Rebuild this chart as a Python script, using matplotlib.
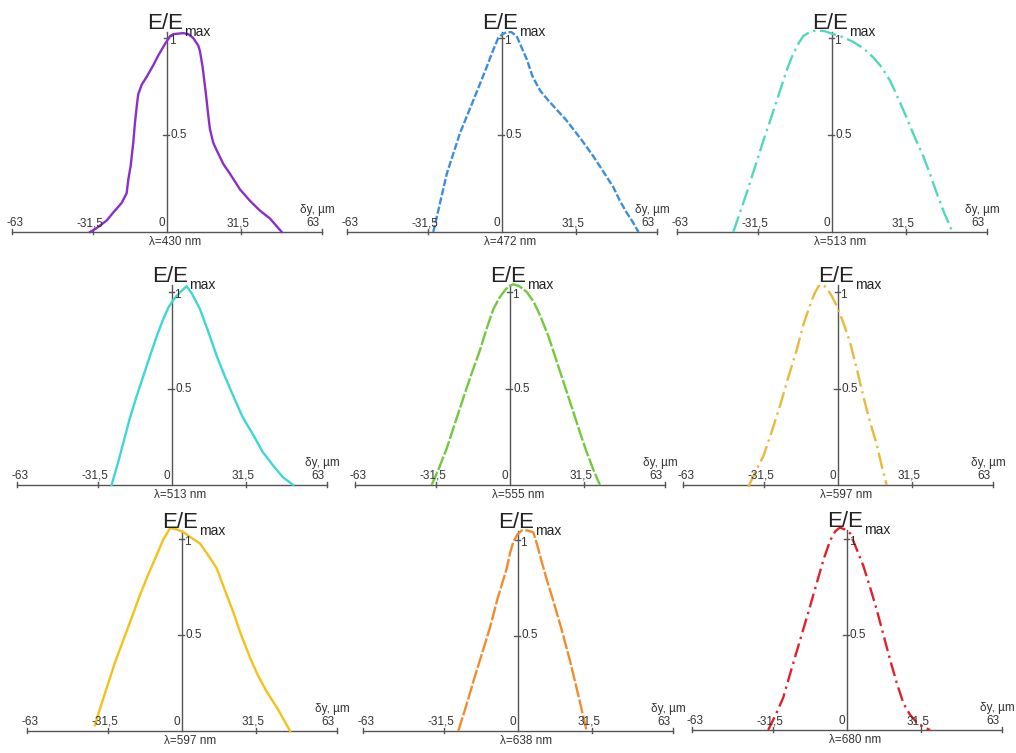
import matplotlib.pyplot as plt

plt.rcParams['font.family'] = ['Liberation Sans', 'DejaVu Sans']

# profiles: dy in um, E/Emax
dy_430 = [-32.6, -29.8, -25.5, -22.8, -19.2, -17.1, -16.4, -15.4, -14.3, -13.6, -12.8, -12.2, -10.7, -8.6, -5.8,
          -3.7, -0.8, 1.3, 2.7, 6.9, 9.0, 11.1, 13.3, 14.0, 15.1, 16.5, 17.5, 18.2, 19.6, 21.1, 23.9, 26.7,
          30.9, 35.2, 39.4, 43.6, 48.6]
e_430 = [0.0, 0.02, 0.06, 0.10, 0.15, 0.20, 0.27, 0.34, 0.46, 0.56, 0.65, 0.71, 0.76, 0.80, 0.86,
         0.91, 0.97, 1.01, 1.02, 1.025, 1.02, 1.0, 0.96, 0.93, 0.85, 0.71, 0.60, 0.53, 0.46, 0.42, 0.35, 0.30,
         0.22, 0.16, 0.11, 0.07, 0.0]

dy_472 = [-29.1, -23.4, -17.8, -12.1, -6.5, -4.0, -1.6, 0.2, 2.0, 4.0, 6.2, 8.0, 10.5, 13.0, 16.1, 19.5,
          23.2, 27.0, 30.2, 34.0, 38.7, 43.0, 47.2, 50.0, 52.8, 55.5, 57.8]
e_472 = [0.0, 0.30, 0.51, 0.68, 0.85, 0.93, 1.0, 1.02, 1.03, 1.03, 1.01, 0.96, 0.89, 0.80, 0.73, 0.68,
         0.63, 0.58, 0.53, 0.47, 0.39, 0.31, 0.23, 0.16, 0.10, 0.05, 0.0]

dy_513a = [-41.8, -39.0, -36.2, -32.5, -29.1, -25.5, -22.0, -19.0, -16.4, -14.0, -12.2, -9.5, -6.5, -3.0,
           0.6, 4.5, 9.0, 13.5, 17.5, 21.0, 24.6, 28.0, 31.6, 35.0, 38.7, 41.5, 44.4, 47.5, 50.7]
e_513a = [0.0, 0.10, 0.20, 0.34, 0.47, 0.60, 0.73, 0.84, 0.92, 0.975, 1.01, 1.03, 1.04, 1.035,
          1.02, 1.005, 0.98, 0.945, 0.90, 0.85, 0.78, 0.69, 0.59, 0.49, 0.39, 0.30, 0.20, 0.10, 0.01]

dy_513b = [-25.6, -23.0, -20.6, -18.0, -15.0, -12.0, -9.3, -6.5, -3.7, -1.5, 0.6, 3.5, 6.2, 8.5, 11.9,
           15.5, 18.9, 22.5, 26.0, 30.0, 34.4, 38.5, 42.9, 47.0, 51.4]
e_513b = [0.0, 0.11, 0.22, 0.34, 0.46, 0.57, 0.67, 0.77, 0.86, 0.92, 0.96, 1.0, 1.03, 0.99, 0.91,
          0.79, 0.67, 0.56, 0.46, 0.35, 0.26, 0.17, 0.10, 0.04, 0.0]

dy_555 = [-33.2, -30.0, -26.8, -23.3, -19.8, -16.2, -12.7, -9.9, -7.1, -4.5, -2.1, -0.5, 1.4, 4.0, 7.1,
          10.0, 12.7, 16.3, 19.8, 23.3, 26.8, 29.7, 32.5, 35.3, 38.1]
e_555 = [0.0, 0.09, 0.19, 0.32, 0.45, 0.58, 0.70, 0.81, 0.91, 0.97, 1.01, 1.03, 1.04, 1.03, 1.0,
         0.95, 0.88, 0.77, 0.64, 0.51, 0.38, 0.27, 0.17, 0.08, 0.0]

dy_597a = [-38.0, -35.0, -31.6, -28.0, -24.6, -21.0, -17.5, -14.7, -11.9, -10.0, -8.3, -6.5, -4.8, -2.7,
           -0.6, 2.3, 5.1, 8.0, 10.7, 13.5, 16.4, 18.5, 20.6]
e_597a = [-0.01, 0.07, 0.15, 0.28, 0.41, 0.56, 0.70, 0.83, 0.93, 0.99, 1.03, 1.04, 1.02, 0.98,
          0.93, 0.84, 0.74, 0.60, 0.46, 0.33, 0.21, 0.10, 0.0]

dy_597b = [-36.9, -34.5, -31.9, -28.5, -24.9, -21.3, -17.8, -14.2, -10.7, -8.0, -5.1, -2.5, 0.6, 4.0, 7.6,
           11.0, 14.7, 18.0, 21.7, 25.0, 28.8, 32.0, 35.9, 40.5, 45.8]
e_597b = [0.03, 0.126, 0.224, 0.353, 0.472, 0.591, 0.709, 0.818, 0.917, 0.996, 1.056, 1.051, 1.036, 1.006, 0.977,
          0.917, 0.848, 0.739, 0.620, 0.502, 0.383, 0.294, 0.205, 0.116, 0.0]

dy_638 = [-25.3, -22.0, -18.9, -15.4, -11.9, -8.5, -4.8, -3.4, -2.0, -0.2, 1.6, 4.0, 6.5, 8.0, 9.3,
          12.0, 15.0, 18.5, 22.0, 25.5, 29.1]
e_638 = [0.0, 0.13, 0.26, 0.40, 0.54, 0.70, 0.85, 0.93, 0.99, 1.03, 1.05, 1.05, 1.04, 0.98, 0.92,
         0.80, 0.68, 0.53, 0.37, 0.19, 0.0]

dy_680 = [-33.4, -30.2, -27.0, -23.5, -19.9, -16.3, -12.8, -10.0, -7.2, -5.0, -3.0, -1.0, 1.3, 4.0, 6.9,
          9.7, 12.6, 15.4, 18.2, 21.0, 23.9, 26.7, 29.5, 32.4, 35.2]
e_680 = [0.0, 0.08, 0.17, 0.32, 0.47, 0.62, 0.77, 0.89, 0.99, 1.04, 1.06, 1.05, 1.03, 0.95, 0.86,
         0.75, 0.63, 0.50, 0.37, 0.25, 0.14, 0.08, 0.04, 0.015, 0.0]

tick_vals = [-63, -31.5, 0, 31.5, 63]
tick_text = ['-63', '-31,5', '0', '31,5', '63']

SX = 2.36  # px per um
W, H = 1016, 753

panels = [
    # origin px (x, y), px per unit E, data, colour, dash, label
    ((167, 232), 194, dy_430, e_430, '#8B2FC9', None, 'λ=430 nm'),
    ((502, 232), 194, dy_472, e_472, '#3C8DDC', (3, 1), 'λ=472 nm'),
    ((832, 232), 194, dy_513a, e_513a, '#4FD8BE', (7, 2, 1, 2), 'λ=513 nm'),
    ((172, 485), 193, dy_513b, e_513b, '#3FD6D6', None, 'λ=513 nm'),
    ((510, 485), 193, dy_555, e_555, '#72C93C', (6, 1), 'λ=555 nm'),
    ((838, 485), 193, dy_597a, e_597a, '#E8B93A', (7, 2, 1, 2), 'λ=597 nm'),
    ((182, 731), 192, dy_597b, e_597b, '#F2C21B', None, 'λ=597 nm'),
    ((518, 731), 191, dy_638, e_638, '#F08C2C', (6, 1), 'λ=638 nm'),
    ((847, 730), 191, dy_680, e_680, '#E0212B', (6, 2, 1, 2), 'λ=680 nm'),
]

fig = plt.figure(figsize=(W / 100, H / 100), dpi=100)
axc = '#555555'
txc = '#333333'

for (ox, oy), sy, dy, e, col, dash, lab in panels:
    left, right, top, bot = 160, 175, 222, 20
    ax = fig.add_axes([(ox - left) / W, (H - oy - bot) / H, (left + right) / W, (top + bot) / H])
    ax.set_xlim(-left / SX, right / SX)
    ax.set_ylim(-bot / sy, top / sy)
    ax.axis('off')

    # axes lines
    ax.plot([-155 / SX, 155 / SX], [0, 0], color=axc, lw=1)
    ax.plot([0, 0], [0, 200 / sy], color=axc, lw=1)
    for xt in [-155 / SX, -31.5, 31.5, 155 / SX]:
        ax.plot([xt, xt], [-2 / sy, 3 / sy], color=axc, lw=1)
    ax.plot([-4 / SX, 2 / SX], [0.5, 0.5], color=axc, lw=1)
    ax.plot([-3 / SX, 2 / SX], [1, 1], color=axc, lw=1)

    # profile
    line, = ax.plot(dy, e, color=col, lw=1.7, solid_joinstyle='round')
    if dash is not None:
        line.set_dashes(dash)

    # tick labels
    for v, t in zip(tick_vals, tick_text):
        if v == 0:
            ax.text(-2 / SX, 3 / sy, t, ha='right', va='bottom', fontsize=8.5, color=txc)
        else:
            ax.text(v - 3 / SX, 3 / sy, t, ha='center', va='bottom', fontsize=8.5, color=txc)
    ax.text(3 / SX, 0.5, '0.5', ha='left', va='center', fontsize=8.5, color=txc)
    ax.text(2 / SX, 0.985, '1', ha='left', va='center', fontsize=8.5, color=txc)

    # titles
    ax.text(-20 / SX, 203 / sy, 'E/E', ha='left', va='baseline', fontsize=16, color='#222222')
    ax.text(17 / SX, 196 / sy, 'max', ha='left', va='baseline', fontsize=10, color='#222222')
    ax.text(133 / SX, 19 / sy, 'δy, µm', ha='left', va='baseline', fontsize=8.5, color=txc)
    ax.text(8 / SX, -4 / sy, lab, ha='center', va='top', fontsize=8.5, color=txc)

fig.savefig('out.png', dpi=100, facecolor='white')
